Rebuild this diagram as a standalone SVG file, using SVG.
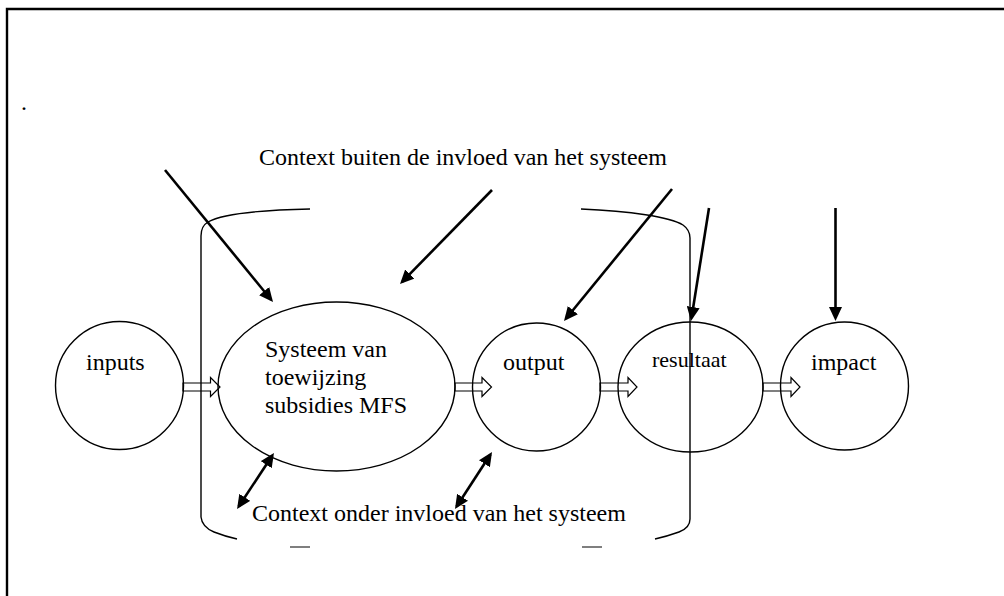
<svg xmlns="http://www.w3.org/2000/svg" width="1004" height="596" viewBox="0 0 1004 596">
<style>
.t{font-family:"Liberation Serif","Times New Roman",serif;font-size:24px;fill:#000}
.sh{fill:none;stroke:#000;stroke-width:1.4}
.ha{fill:none;stroke:#000;stroke-width:1.2;stroke-linejoin:miter}
.ar{fill:none;stroke:#000;stroke-width:2.6}
.br{fill:none;stroke:#000;stroke-width:1.4}
</style>
<defs>
<marker id="ah" markerUnits="userSpaceOnUse" markerWidth="14" markerHeight="13" refX="11" refY="6.5" orient="auto-start-reverse" viewBox="0 0 14 13">
<path d="M0,0 L14,6.5 L0,13 z" fill="#000"/>
</marker>
</defs>
<rect width="1004" height="596" fill="#fff"/>
<path d="M7,596 V9 H1004" fill="none" stroke="#000" stroke-width="2.4"/>
<text class="t" x="21" y="110">.</text>
<text class="t" x="259" y="165">Context buiten de invloed van het systeem</text>
<g id="context-bracket">
<path class="br" d="M310,209 C262,210 222,214 208,222 Q201,226 201,236 V517 Q202,527 214,532 Q224,536 237,539"/>
<path class="br" d="M581,209 C630,211 670,217 683,225 Q690,230 690,238 V519 Q690,528 679,532 Q668,536 655,539"/>
<path d="M290,547 H310 M582,547 H602" stroke="#555" stroke-width="1.6"/>
</g>
<text class="t" x="252" y="521">Context onder invloed van het systeem</text>
<g id="inputs">
<circle class="sh" cx="119.5" cy="385.5" r="64"/>
<text class="t" x="86" y="370">inputs</text>
</g>
<g id="systeem">
<ellipse class="sh" cx="336.5" cy="386.5" rx="118.5" ry="84.5"/>
<text class="t" x="265" y="357">Systeem van</text>
<text class="t" x="265" y="385">toewijzing</text>
<text class="t" x="265" y="413">subsidies MFS</text>
</g>
<g id="output">
<circle class="sh" cx="536.5" cy="387" r="64"/>
<text class="t" x="503" y="370">output</text>
</g>
<g id="resultaat">
<ellipse class="sh" cx="690.5" cy="387" rx="72.5" ry="65"/>
<text class="t" x="652" y="367" style="font-size:22px">resultaat</text>
</g>
<g id="impact">
<circle class="sh" cx="844.5" cy="386" r="64"/>
<text class="t" x="811" y="370">impact</text>
</g>
<g id="connectors">
<path class="ha" d="M183,383 H210.5 V377.5 L220,387 L210.5,396.5 V391 H183 Z"/>
<path class="ha" d="M455,383 H482 V377.5 L491.5,387 L482,396.5 V391 H455 Z"/>
<path class="ha" d="M600,383 H628 V377.5 L637,387 L628,396.5 V391 H600 Z"/>
<path class="ha" d="M763,383 H791 V377.5 L800,387 L791,396.5 V391 H763 Z"/>
<line class="ar" x1="165" y1="170" x2="271.1" y2="299.7" marker-end="url(#ah)"/>
<line class="ar" x1="492" y1="190" x2="402.1" y2="281.9" marker-end="url(#ah)"/>
<line class="ar" x1="672" y1="189" x2="565.9" y2="318.7" marker-end="url(#ah)"/>
<line class="ar" x1="709" y1="208" x2="691.5" y2="318" marker-end="url(#ah)"/>
<line class="ar" x1="835.5" y1="208" x2="835.5" y2="318" marker-end="url(#ah)"/>
<line class="ar" x1="238.7" y1="506.5" x2="272.3" y2="455.5" marker-start="url(#ah)" marker-end="url(#ah)"/>
<line class="ar" x1="456.6" y1="506.5" x2="490.4" y2="454.5" marker-start="url(#ah)" marker-end="url(#ah)"/>
</g>
</svg>
